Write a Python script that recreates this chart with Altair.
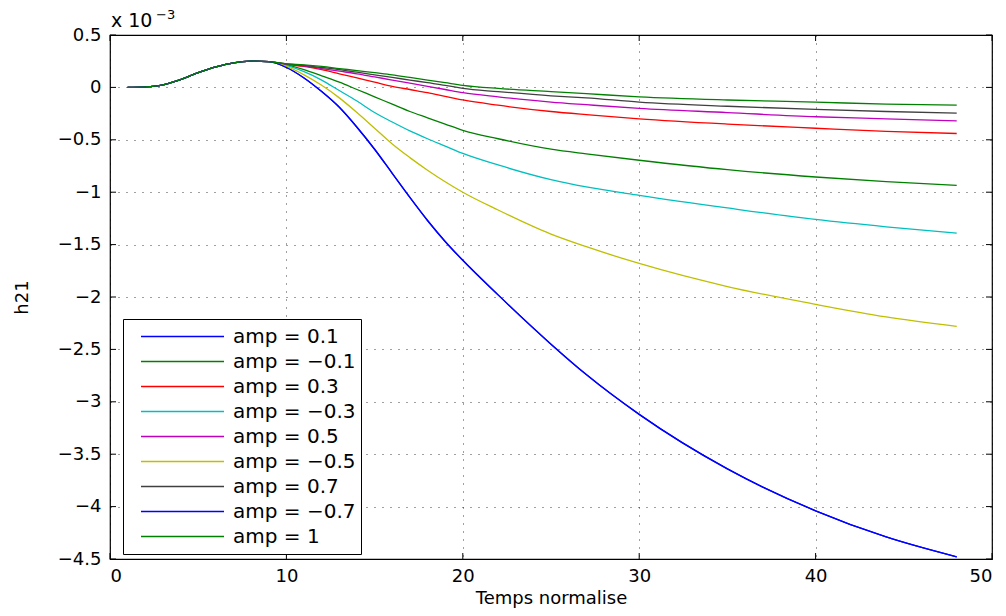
import altair as alt
import pandas as pd

# ---- data (values in units of 1e-3) ----
t = [1, 2, 3, 4, 5, 6, 7, 8, 9, 10, 11, 12, 13, 14, 15, 16, 17, 18, 19, 20, 22, 25, 27, 30, 35, 40, 44, 48]
common = [0, 0.005, 0.025, 0.075, 0.14, 0.195, 0.235, 0.25, 0.245]

labels = ["amp = 0.1", "amp = \u22120.1", "amp = 0.3", "amp = \u22120.3", "amp = 0.5",
          "amp = \u22120.5", "amp = 0.7", "amp = \u22120.7", "amp = 1"]
colors = ["#0000ff", "#008000", "#ff0000", "#00bfbf", "#bf00bf", "#bfbf00", "#404040", "#0000ff", "#008000"]

amp_p01 = common + [0.19, 0.09, -0.04, -0.19, -0.38, -0.59, -0.82, -1.05, -1.27, -1.47, -1.65, -1.98, -2.45, -2.74, -3.12, -3.64, -4.04, -4.29, -4.48]
amp_m01 = common + [0.215, 0.17, 0.11, 0.05, -0.02, -0.09, -0.16, -0.23, -0.29, -0.35, -0.41, -0.49, -0.59, -0.635, -0.695, -0.785, -0.855, -0.90, -0.935]
amp_p03 = common + [0.22, 0.20, 0.17, 0.13, 0.09, 0.05, 0.01, -0.02, -0.05, -0.085, -0.12, -0.17, -0.23, -0.26, -0.30, -0.35, -0.39, -0.42, -0.44]
amp_m03 = common + [0.21, 0.15, 0.07, -0.03, -0.13, -0.24, -0.33, -0.415, -0.49, -0.56, -0.63, -0.74, -0.88, -0.95, -1.03, -1.15, -1.26, -1.33, -1.39]
amp_p05 = common + [0.22, 0.205, 0.18, 0.155, 0.13, 0.10, 0.07, 0.04, 0.01, -0.02, -0.05, -0.09, -0.14, -0.165, -0.20, -0.24, -0.28, -0.30, -0.32]
amp_m05 = common + [0.20, 0.12, 0.02, -0.10, -0.24, -0.39, -0.54, -0.67, -0.79, -0.90, -1.00, -1.17, -1.40, -1.52, -1.68, -1.90, -2.07, -2.19, -2.28]
amp_p07 = common + [0.225, 0.21, 0.19, 0.17, 0.145, 0.12, 0.095, 0.07, 0.045, 0.02, -0.01, -0.04, -0.08, -0.10, -0.14, -0.18, -0.21, -0.23, -0.245]
amp_m07 = common + [0.19, 0.09, -0.04, -0.19, -0.38, -0.59, -0.82, -1.05, -1.27, -1.47, -1.65, -1.98, -2.45, -2.74, -3.12, -3.64, -4.04, -4.29, -4.48]
amp_p1 = common + [0.225, 0.215, 0.20, 0.18, 0.16, 0.14, 0.12, 0.095, 0.07, 0.045, 0.02, -0.01, -0.04, -0.06, -0.09, -0.12, -0.14, -0.16, -0.17]

series = [amp_p01, amp_m01, amp_p03, amp_m03, amp_p05, amp_m05, amp_p07, amp_m07, amp_p1]

x_ticks = [0, 10, 20, 30, 40, 50]
y_ticks = [0.5, 0, -0.5, -1, -1.5, -2, -2.5, -3, -3.5, -4, -4.5]

rows = []
for i, (lab, vals) in enumerate(zip(labels, series)):
    for tt, v in zip(t, vals):
        rows.append({"t": tt, "h": v, "amp": lab, "ord": i})
df = pd.DataFrame(rows)

W, H = 882, 524
FONT = "DejaVu Sans"

xscale = alt.Scale(domain=[0, 50], nice=False, zero=False)
yscale = alt.Scale(domain=[-4.5, 0.5], nice=False, zero=False)

x_axis = alt.Axis(values=x_ticks, title="Temps normalise", grid=True, ticks=False,
                  domain=False, labelPadding=8, labelExpr="toString(datum.value)",
                  titleY=44, titleBaseline="alphabetic")
y_axis = alt.Axis(values=y_ticks, title="h21", grid=True, ticks=False,
                  domain=False, labelPadding=9,
                  labelExpr="replace(toString(datum.value), '-', '\u2212')",
                  titleX=-88, titleY=H / 2, titleAngle=-90,
                  titleAlign="center", titleBaseline="middle")

lines = alt.Chart(df).mark_line(strokeWidth=1.3, interpolate="monotone").encode(
    x=alt.X("t:Q", scale=xscale, axis=x_axis, title="Temps normalise"),
    y=alt.Y("h:Q", scale=yscale, axis=y_axis, title="h21"),
    color=alt.Color("amp:N", scale=alt.Scale(domain=labels, range=colors),
                    legend=alt.Legend(orient="none", legendX=13, legendY=284, title=None,
                                      symbolType="stroke", symbolSize=6889,
                                      symbolStrokeWidth=1.3, clipHeight=25, rowPadding=0,
                                      labelFontSize=20, labelFont=FONT, labelOffset=8,
                                      labelColor="black", labelLimit=400,
                                      strokeColor="black", fillColor="white",
                                      padding=5, symbolOffset=12)),
    detail="ord:N",
    order="ord:Q",
)

xt = pd.DataFrame({"t": x_ticks})
yt = pd.DataFrame({"h": y_ticks})

xtick_b = alt.Chart(xt).mark_rule(color="black", strokeWidth=1).encode(
    x=alt.X("t:Q", scale=xscale, axis=x_axis, title="Temps normalise"), y=alt.value(H), y2=alt.value(H - 6))
xtick_t = alt.Chart(xt).mark_rule(color="black", strokeWidth=1).encode(
    x=alt.X("t:Q", scale=xscale, axis=x_axis, title="Temps normalise"), y=alt.value(0), y2=alt.value(6))
ytick_l = alt.Chart(yt).mark_rule(color="black", strokeWidth=1).encode(
    y=alt.Y("h:Q", scale=yscale, axis=y_axis, title="h21"), x=alt.value(0), x2=alt.value(6))
ytick_r = alt.Chart(yt).mark_rule(color="black", strokeWidth=1).encode(
    y=alt.Y("h:Q", scale=yscale, axis=y_axis, title="h21"), x=alt.value(W), x2=alt.value(W - 6))

exp_base = alt.Chart(pd.DataFrame({"s": ["x 10"]})).mark_text(
    font=FONT, fontSize=19, align="left", baseline="alphabetic", color="black"
).encode(text="s:N", x=alt.value(1), y=alt.value(-8))
exp_sup = alt.Chart(pd.DataFrame({"s": ["\u22123"]})).mark_text(
    font=FONT, fontSize=13, align="left", baseline="alphabetic", color="black"
).encode(text="s:N", x=alt.value(46), y=alt.value(-16))

chart = alt.layer(lines, xtick_b, xtick_t, ytick_l, ytick_r, exp_base, exp_sup).properties(
    width=W, height=H,
    background="white",
    autosize=alt.AutoSizeParams(type="none"),
    padding={"left": 102, "top": 27, "right": 6, "bottom": 49},
).configure_view(
    stroke="black", strokeWidth=1.2
).configure_axis(
    labelFont=FONT, labelFontSize=18, labelColor="black",
    titleFont=FONT, titleFontSize=18, titleColor="black", titleFontWeight="normal",
    gridColor="black", gridOpacity=0.75, gridDash=[1, 7], gridWidth=1,
)

chart.save("out.html", embed_options={"renderer": "svg", "actions": False})
